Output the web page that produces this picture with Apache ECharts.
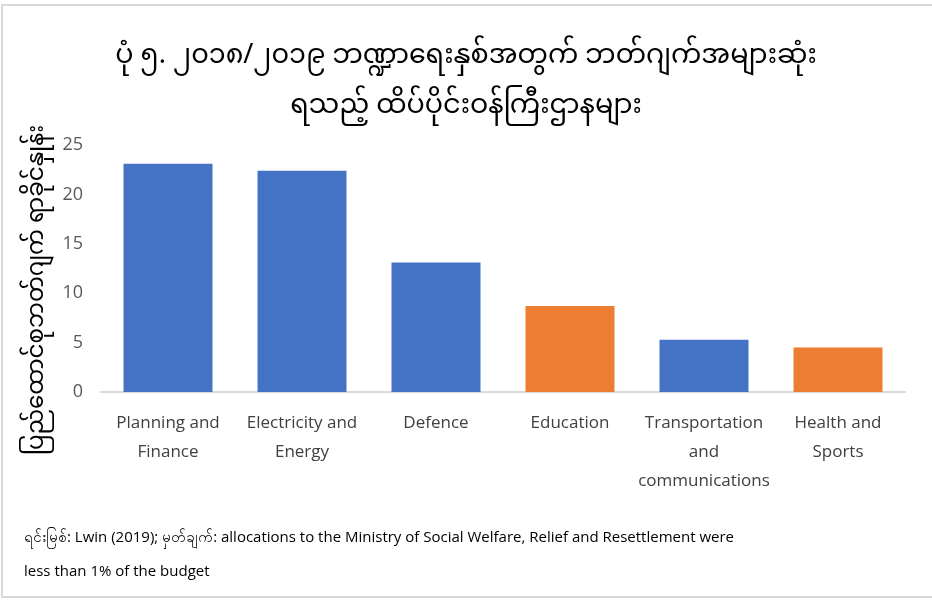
<!DOCTYPE html>
<html>
<head>
<meta charset="utf-8">
<script src="https://cdn.jsdelivr.net/npm/echarts@6/dist/echarts.min.js"></script>
<style>
  html, body { margin: 0; padding: 0; background: #fff; }
  #chart { width: 932px; height: 600px; }
</style>
</head>
<body>
<div id="chart"></div>
<script>
// Ministries with the largest share of the 2018/2019 Union budget
const categories = [
  'Planning and\nFinance',
  'Electricity and\nEnergy',
  'Defence',
  'Education',
  'Transportation\nand\ncommunications',
  'Health and\nSports'
];
const shares = [23.1, 22.4, 13.1, 8.7, 5.3, 4.5];
const isSocial = [false, false, false, true, false, true];
const yTicks = { min: 0, max: 25, interval: 5 };

const titleLines = [
  'ပုံ ၅. ၂၀၁၈/၂၀၁၉ ဘဏ္ဍာရေးနှစ်အတွက် ဘတ်ဂျက်အများဆုံး',
  'ရသည့် ထိပ်ပိုင်းဝန်ကြီးဌာနများ'
];
const yName = 'ပြည်ထောင်စုဘတ်ဂျက် ရာခိုင်နှုန်း';
const noteLines = [
  'ရင်းမြစ်: Lwin (2019); မှတ်ချက်: allocations to the Ministry of Social Welfare, Relief and Resettlement were',
  'less than 1% of the budget'
];

const BLUE = '#4472c4';
const ORANGE = '#ed7d31';
const MY_FONT = '"Noto Sans Myanmar", "Myanmar Text", Padauk, "Noto Sans", sans-serif';
const LAT_FONT = '"Open Sans", sans-serif';

const chart = echarts.init(document.getElementById('chart'));
chart.setOption({
  backgroundColor: '#fff',
  animation: false,
  title: {
    text: titleLines.join('\n'),
    left: 'center',
    top: 30,
    textStyle: {
      fontFamily: MY_FONT,
      fontSize: 27,
      fontWeight: 'normal',
      color: '#000',
      lineHeight: 50
    }
  },
  grid: { left: 101, right: 27, top: 145, bottom: 208, containLabel: false },
  xAxis: {
    type: 'category',
    data: categories,
    axisLine: { lineStyle: { color: '#d9d9d9', width: 2 } },
    axisTick: { show: false },
    axisLabel: {
      interval: 0,
      color: '#404040',
      fontFamily: LAT_FONT,
      fontSize: 17,
      lineHeight: 29,
      margin: 17
    }
  },
  yAxis: {
    type: 'value',
    min: yTicks.min,
    max: yTicks.max,
    interval: yTicks.interval,
    axisLine: { show: false },
    axisTick: { show: false },
    splitLine: { show: false },
    axisLabel: {
      color: '#595959',
      fontFamily: LAT_FONT,
      fontSize: 18,
      margin: 18
    }
  },
  series: [{
    type: 'bar',
    barWidth: 89,
    data: shares.map((v, i) => ({
      value: v,
      itemStyle: { color: isSocial[i] ? ORANGE : BLUE }
    }))
  }],
  graphic: [
    {
      type: 'rect',
      shape: { x: 2, y: 5, width: 935, height: 592 },
      style: { fill: 'none', stroke: '#d9d9d9', lineWidth: 2 },
      silent: true
    },
    {
      // vertical axis title
      type: 'text',
      x: 41,
      y: 290,
      rotation: Math.PI / 2,
      style: {
        text: yName,
        font: '23px ' + MY_FONT,
        fill: '#000',
        align: 'center',
        verticalAlign: 'middle'
      }
    },
    {
      type: 'text',
      left: 24,
      top: 521,
      style: {
        text: noteLines.join('\n'),
        font: '15px ' + LAT_FONT,
        fill: '#000',
        lineHeight: 34
      }
    }
  ]
});
</script>
</body>
</html>
